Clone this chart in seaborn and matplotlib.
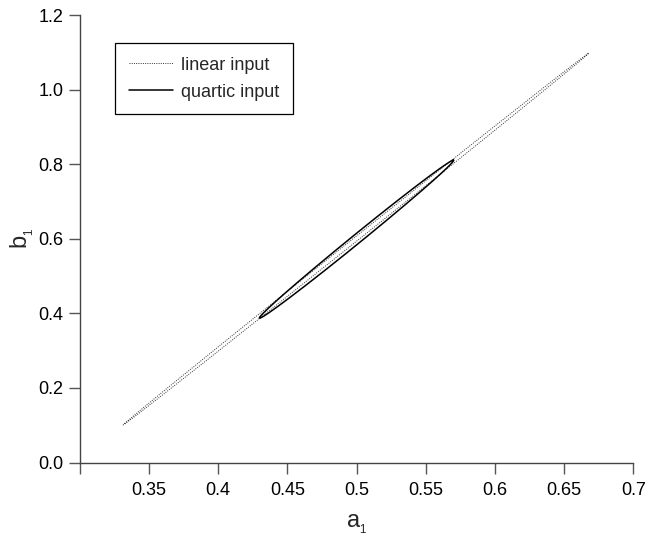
import matplotlib
matplotlib.use("Agg")
import matplotlib.pyplot as plt
import numpy as np
import pandas as pd
import seaborn as sns

# confidence regions of (a1, b1): centre, semi-major vector, horizontal half-width
linear_center = [0.4995, 0.599]
linear_major = [0.168, 0.498]
linear_width = 0.0024

quartic_center = [0.500, 0.599]
quartic_major = [0.070, 0.212]
quartic_width = 0.0052

x_ticks = [0.3, 0.35, 0.4, 0.45, 0.5, 0.55, 0.6, 0.65, 0.7]
x_ticklabels = ["", "0.35", "0.4", "0.45", "0.5", "0.55", "0.6", "0.65", "0.7"]
y_ticks = [0.0, 0.2, 0.4, 0.6, 0.8, 1.0, 1.2]
y_ticklabels = ["0.0", "0.2", "0.4", "0.6", "0.8", "1.0", "1.2"]


def ellipse_frame(center, major, width, n=400):
    t = np.linspace(0, 2 * np.pi, n)
    a = center[0] + major[0] * np.cos(t) + width * np.sin(t)
    b = center[1] + major[1] * np.cos(t)
    return pd.DataFrame({"a1": a, "b1": b})


sns.set_style("ticks")
plt.rcParams["font.family"] = ["Liberation Sans", "DejaVu Sans"]
plt.rcParams["mathtext.default"] = "regular"

fig = plt.figure(figsize=(6.45, 5.38), dpi=100)
ax = fig.add_axes([0.1235, 0.1403, 0.8585, 0.8318])

lin = ellipse_frame(linear_center, linear_major, linear_width)
qua = ellipse_frame(quartic_center, quartic_major, quartic_width)
sns.lineplot(data=lin, x="a1", y="b1", sort=False, estimator=None, ax=ax,
             color="#333333", linewidth=0.7, linestyle=(0, (1, 1.3)), label="linear input")
sns.lineplot(data=qua, x="a1", y="b1", sort=False, estimator=None, ax=ax,
             color="black", linewidth=1.1, label="quartic input")

ax.set_xlim(0.3, 0.7)
ax.set_ylim(0.0, 1.2)
ax.set_xticks(x_ticks)
ax.set_xticklabels(x_ticklabels)
ax.set_yticks(y_ticks)
ax.set_yticklabels(y_ticklabels)
ax.tick_params(direction="out", length=8, width=1, color="#555555",
               labelsize=13, labelcolor="black")
ax.tick_params(axis="x", pad=6)
ax.tick_params(axis="y", pad=3.5)
for side in ("top", "right"):
    ax.spines[side].set_visible(False)
for side in ("left", "bottom"):
    ax.spines[side].set_color("#444444")
    ax.spines[side].set_linewidth(1)

ax.set_xlabel("a$_{_1}$", fontsize=17, labelpad=10)
ax.set_ylabel("b$_{_1}$", fontsize=17, labelpad=2)

leg = ax.legend(loc="upper left", bbox_to_anchor=(0.064, 0.937), borderaxespad=0,
                fontsize=13, frameon=True, fancybox=False, handlelength=2.45,
                handletextpad=0.45, labelspacing=0.55, borderpad=0.75)
leg.get_frame().set_edgecolor("black")
leg.get_frame().set_linewidth(0.9)
leg.get_frame().set_alpha(1)

fig.savefig("out.png", dpi=100)
